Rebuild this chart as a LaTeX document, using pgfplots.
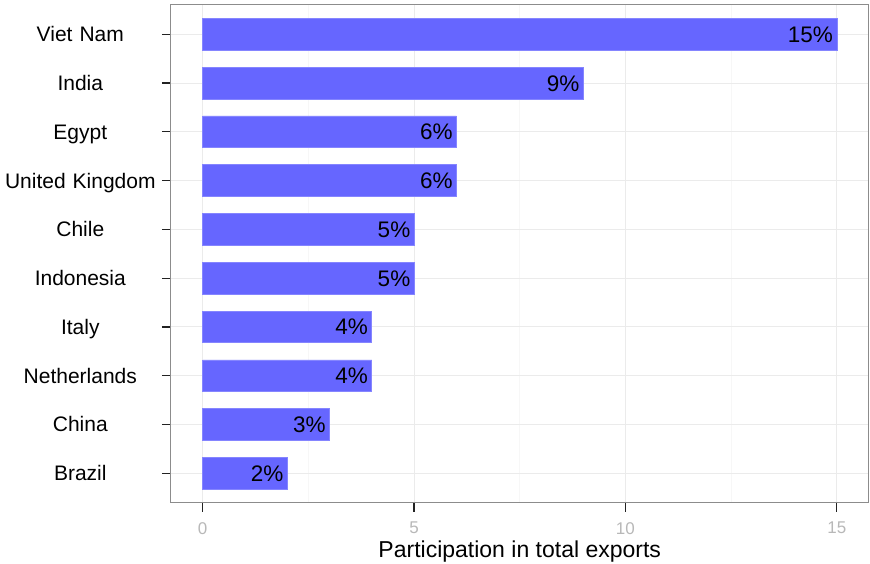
\documentclass[border=0pt]{standalone}
\usepackage{fontspec}
\setmainfont{Liberation Sans}
\usepackage{pgfplots}
\pgfplotsset{compat=1.18}
\definecolor{barblue}{HTML}{6666FF}
\definecolor{gridmaj}{HTML}{EBEBEB}
\definecolor{gridmin}{HTML}{F7F7F7}
\definecolor{border}{HTML}{8C8C8C}
\definecolor{ticklab}{HTML}{B8B8B8}
\definecolor{tickcol}{HTML}{222222}
\begin{document}
\begin{tikzpicture}[x=1pt,y=1pt]
\useasboundingbox (-171,-60.5) rectangle (699,502.5);
\begin{axis}[
  at={(0,0)}, anchor=south west,
  scale only axis, width=697.5pt, height=497.5pt,
  xbar, bar width=0.65,
  xmin=-0.75, xmax=15.75, ymin=0.4, ymax=10.6,
  ytick={1,...,10},
  yticklabels={Brazil,China,Netherlands,Italy,Indonesia,Chile,United Kingdom,Egypt,India,Viet Nam},
  xtick={0,5,10,15}, minor xtick={2.5,7.5,12.5},
  xtick pos=bottom, ytick pos=left,
  grid=both,
  major grid style={draw=gridmaj, line width=1pt},
  minor grid style={draw=gridmin, line width=1pt},
  axis line style={draw=border, line width=1pt},
  tick align=outside, major tick length=9pt, minor tick length=0pt,
  major tick style={draw=tickcol, line width=1.2pt},
  /pgf/number format/assume math mode=true,
  xticklabel style={font=\fontsize{17}{17}\selectfont, text=ticklab, anchor=north, inner sep=0pt, yshift=-10.5pt},
  yticklabel style={font=\fontsize{21}{21}\selectfont, text=black, anchor=east, inner sep=0pt,
     text width=162pt, align=center, text height=15pt, text depth=0pt, xshift=-0.5pt},
  xlabel={Participation in total exports},
  xlabel style={font=\fontsize{23}{23}\selectfont, at={(axis description cs:0.5,0)}, anchor=north, inner sep=0pt, yshift=-38.5pt},
  point meta=x,
  nodes near coords={\pgfmathprintnumber{\pgfplotspointmeta}\%},
  every node near coord/.append style={anchor=east, font=\fontsize{22.5}{22.5}\selectfont, text=black,
     inner sep=2pt, xshift=-1.5pt, text height=16pt, text depth=0pt},
]
\addplot[fill=barblue, draw=barblue!80!white, line width=0.6pt] coordinates {
  (2,1) (3,2) (4,3) (4,4) (5,5) (5,6) (6,7) (6,8) (9,9) (15,10)
};
\end{axis}
\end{tikzpicture}
\end{document}
